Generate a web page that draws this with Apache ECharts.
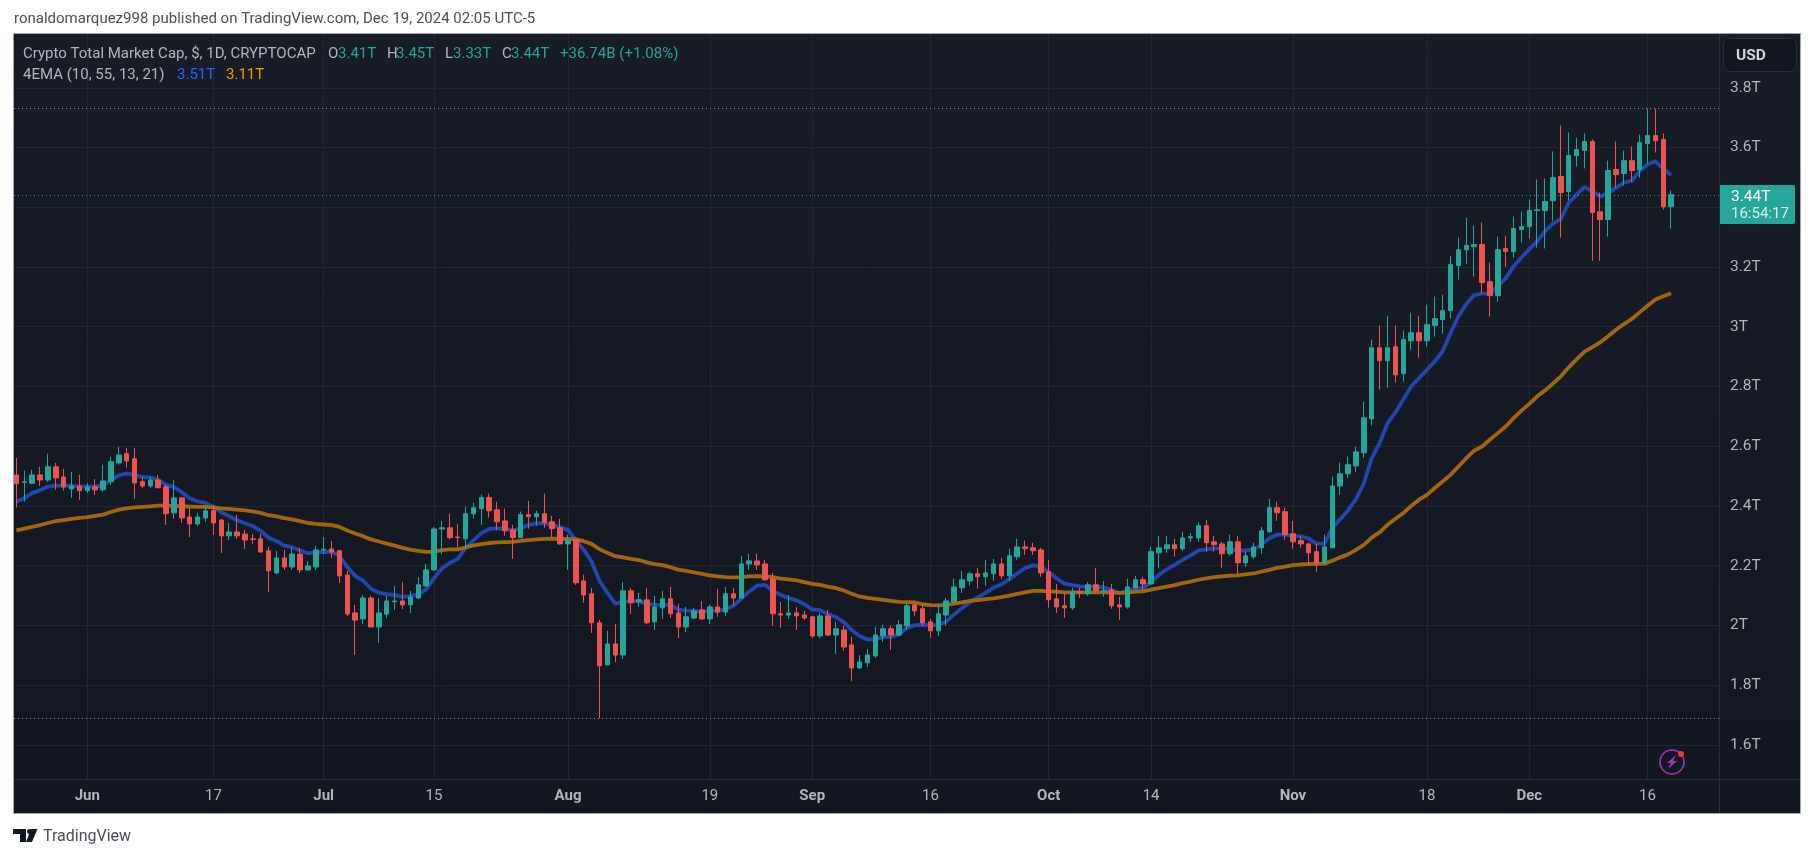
<!DOCTYPE html>
<html>
<head>
<meta charset="utf-8">
<style>html,body{margin:0;padding:0;background:#fff}#c{width:1814px;height:858px}</style>
<script src="https://cdn.jsdelivr.net/npm/echarts@6/dist/echarts.min.js"></script>
</head>
<body>
<div id="c"></div>
<script>
// Daily candles, May 23 2024 .. Dec 19 2024, values in trillions of USD
const opens = [
 2.504,2.479,2.476,2.504,2.487,2.531,2.497,2.457,2.467,
 2.451,2.464,2.454,2.481,2.544,2.575,2.558,2.481,2.467,2.487,2.464,2.377,2.427,2.363,2.340,2.360,2.384,2.353,2.300,2.313,2.306,2.290,2.290,2.250,2.176,2.226,2.196,2.239,2.186,2.196,
 2.253,2.256,2.250,2.169,2.042,2.022,2.092,1.995,2.038,2.079,2.082,2.069,2.092,2.132,2.186,2.323,2.327,2.296,2.290,2.374,2.391,2.428,2.387,2.350,2.320,2.294,2.371,2.364,2.374,2.347,2.327,
 2.273,2.287,2.149,2.106,2.009,1.868,1.938,1.901,2.116,2.079,2.086,2.012,2.059,2.089,2.042,1.995,2.025,2.052,2.022,2.062,2.045,2.106,2.092,2.206,2.216,2.206,2.156,2.039,2.035,2.042,2.035,
 2.029,1.965,2.032,1.968,1.985,1.935,1.858,1.875,1.898,1.965,1.989,1.968,1.999,2.069,2.056,2.012,1.982,2.035,2.079,2.126,2.149,2.173,2.163,2.173,2.206,2.166,2.230,2.263,2.260,2.253,
 2.180,2.089,2.066,2.059,2.113,2.106,2.136,2.113,2.119,2.069,2.062,2.126,2.153,2.139,2.243,2.257,2.270,2.257,2.293,2.293,2.334,2.280,2.273,2.240,2.280,2.210,2.230,2.260,2.314,2.394,2.381,
 2.307,2.284,2.273,2.247,2.210,2.260,2.467,2.508,2.534,2.578,2.692,2.930,2.886,2.933,2.843,2.953,2.980,2.953,3.004,3.024,3.054,3.205,3.258,3.268,3.275,3.151,3.104,3.262,3.251,3.325,
 3.335,3.389,3.389,3.422,3.503,3.453,3.573,3.590,3.620,3.385,3.359,3.526,3.513,3.556,3.526,3.613,3.640,3.627,3.402];
const closes = [
 2.474,2.481,2.504,2.487,2.531,2.494,2.464,2.467,2.451,
 2.464,2.454,2.484,2.548,2.571,2.551,2.477,2.467,2.487,2.461,2.374,2.427,2.360,2.340,2.363,2.384,2.343,2.300,2.313,2.300,2.286,2.288,2.246,2.183,2.226,2.196,2.239,2.186,2.199,2.253,
 2.255,2.246,2.166,2.038,2.018,2.092,1.995,2.042,2.082,2.082,2.069,2.095,2.136,2.186,2.323,2.327,2.294,2.294,2.374,2.394,2.428,2.384,2.347,2.317,2.294,2.371,2.364,2.374,2.344,2.324,2.273,
 2.284,2.143,2.102,2.009,1.865,1.938,1.901,2.116,2.076,2.086,2.009,2.062,2.089,2.039,1.995,2.029,2.049,2.022,2.062,2.045,2.106,2.092,2.206,2.216,2.203,2.153,2.039,2.035,2.042,2.032,2.025,
 1.965,2.032,1.968,1.989,1.928,1.858,1.878,1.901,1.968,1.989,1.968,2.002,2.066,2.049,2.009,1.982,2.039,2.082,2.129,2.153,2.173,2.163,2.176,2.206,2.166,2.233,2.263,2.257,2.250,2.176,
 2.086,2.062,2.059,2.113,2.109,2.136,2.116,2.116,2.066,2.062,2.129,2.153,2.139,2.247,2.260,2.270,2.257,2.293,2.297,2.334,2.277,2.270,2.240,2.280,2.210,2.233,2.263,2.317,2.394,2.377,2.304,
 2.280,2.273,2.243,2.210,2.263,2.467,2.508,2.538,2.581,2.695,2.930,2.886,2.930,2.839,2.957,2.980,2.953,3.007,3.027,3.054,3.208,3.258,3.272,3.275,3.148,3.104,3.258,3.252,3.329,3.335,
 3.389,3.392,3.419,3.499,3.449,3.573,3.593,3.620,3.382,3.359,3.523,3.509,3.556,3.523,3.617,3.640,3.623,3.402,3.442];
const lows = [
 2.395,2.415,2.474,2.467,2.481,2.454,2.451,2.427,2.420,
 2.444,2.437,2.447,2.471,2.538,2.528,2.424,2.461,2.461,2.459,2.337,2.357,2.343,2.296,2.333,2.347,2.303,2.243,2.286,2.290,2.256,2.273,2.243,2.112,2.172,2.186,2.186,2.176,2.183,2.186,
 2.239,2.226,2.142,2.032,1.901,2.005,1.995,1.941,2.025,2.052,2.055,2.042,2.089,2.132,2.183,2.239,2.287,2.262,2.262,2.357,2.337,2.361,2.320,2.300,2.223,2.294,2.324,2.334,2.327,2.294,2.270,
 2.186,2.136,2.076,1.975,1.690,1.868,1.878,1.888,2.039,2.062,2.005,1.985,2.022,2.025,1.958,1.978,2.022,2.019,2.005,2.029,2.032,2.066,2.092,2.186,2.186,2.149,1.999,1.992,2.022,1.985,2.019,
 1.958,1.958,1.965,1.905,1.915,1.814,1.854,1.861,1.891,1.945,1.918,1.965,1.985,2.032,1.999,1.958,1.965,1.999,2.076,2.109,2.133,2.123,2.133,2.149,2.156,2.149,2.220,2.236,2.236,2.163,
 2.059,2.042,2.025,2.052,2.092,2.099,2.109,2.096,2.056,2.019,2.056,2.123,2.119,2.136,2.193,2.243,2.230,2.250,2.280,2.280,2.247,2.247,2.193,2.233,2.170,2.196,2.223,2.240,2.310,2.350,2.287,
 2.257,2.260,2.203,2.180,2.206,2.260,2.437,2.494,2.514,2.561,2.669,2.789,2.796,2.813,2.816,2.923,2.896,2.933,2.967,2.977,3.027,3.158,3.211,3.168,3.111,3.034,3.084,3.201,3.231,3.282,
 3.295,3.265,3.262,3.355,3.298,3.422,3.536,3.530,3.221,3.221,3.302,3.466,3.473,3.486,3.499,3.546,3.583,3.392,3.328];
const highs = [
 2.561,2.518,2.521,2.531,2.575,2.544,2.524,2.514,2.504,
 2.477,2.490,2.538,2.565,2.598,2.595,2.595,2.497,2.497,2.504,2.471,2.487,2.430,2.394,2.377,2.397,2.404,2.357,2.343,2.370,2.320,2.306,2.306,2.263,2.250,2.253,2.263,2.260,2.216,2.266,
 2.296,2.283,2.253,2.183,2.069,2.102,2.099,2.092,2.099,2.132,2.146,2.116,2.162,2.206,2.330,2.350,2.374,2.340,2.397,2.411,2.438,2.441,2.414,2.391,2.337,2.381,2.417,2.384,2.441,2.367,2.357,
 2.304,2.290,2.170,2.126,2.019,1.982,2.005,2.146,2.126,2.109,2.126,2.099,2.116,2.129,2.072,2.062,2.059,2.082,2.069,2.123,2.129,2.126,2.233,2.240,2.240,2.220,2.176,2.079,2.102,2.062,2.049,
 2.032,2.042,2.052,2.012,1.999,1.962,1.901,1.921,1.995,2.002,1.999,2.019,2.072,2.069,2.066,2.022,2.072,2.092,2.156,2.183,2.180,2.193,2.220,2.223,2.226,2.257,2.290,2.284,2.277,2.260,
 2.220,2.139,2.109,2.126,2.126,2.146,2.193,2.149,2.139,2.096,2.156,2.166,2.163,2.263,2.300,2.300,2.290,2.314,2.310,2.344,2.354,2.300,2.280,2.304,2.300,2.247,2.277,2.330,2.424,2.414,2.394,
 2.350,2.300,2.277,2.273,2.304,2.498,2.545,2.565,2.598,2.749,2.957,3.004,3.037,3.004,2.987,3.047,3.037,3.074,3.101,3.107,3.238,3.299,3.365,3.339,3.349,3.215,3.302,3.305,3.369,3.385,
 3.426,3.493,3.496,3.587,3.674,3.650,3.633,3.647,3.627,3.449,3.556,3.620,3.590,3.603,3.643,3.730,3.730,3.647,3.456];
// EMA lines, one value per day
const emaFast = [
 2.415,2.426,2.443,2.453,2.465,2.468,2.468,2.467,2.465,
 2.465,2.465,2.470,2.487,2.502,2.509,2.503,2.497,2.496,2.487,2.471,2.463,2.446,2.426,2.415,2.410,2.397,2.379,2.366,2.352,2.342,2.333,2.317,2.294,2.283,2.267,2.262,2.251,2.242,2.244,
 2.246,2.246,2.234,2.195,2.166,2.150,2.123,2.110,2.105,2.102,2.096,2.098,2.104,2.121,2.158,2.191,2.209,2.223,2.259,2.285,2.309,2.323,2.325,2.323,2.318,2.325,2.337,2.342,2.342,2.337,2.329,
 2.320,2.286,2.253,2.214,2.149,2.110,2.073,2.079,2.082,2.081,2.072,2.069,2.069,2.069,2.053,2.050,2.048,2.046,2.048,2.050,2.054,2.066,2.090,2.114,2.133,2.136,2.116,2.102,2.092,2.084,2.071,
 2.054,2.051,2.038,2.028,2.011,1.985,1.965,1.953,1.954,1.961,1.962,1.970,1.992,2.001,2.002,2.001,2.001,2.013,2.037,2.058,2.078,2.094,2.109,2.126,2.137,2.155,2.174,2.192,2.201,2.198,
 2.178,2.158,2.140,2.135,2.131,2.130,2.130,2.127,2.119,2.108,2.117,2.123,2.126,2.145,2.170,2.188,2.203,2.220,2.234,2.251,2.255,2.258,2.258,2.255,2.251,2.251,2.255,2.270,2.292,2.304,2.304,
 2.300,2.298,2.291,2.274,2.274,2.326,2.356,2.385,2.423,2.476,2.560,2.610,2.677,2.713,2.756,2.800,2.828,2.856,2.884,2.918,2.979,3.035,3.076,3.106,3.111,3.112,3.135,3.162,3.202,3.232,
 3.260,3.286,3.320,3.345,3.361,3.415,3.442,3.468,3.453,3.436,3.448,3.465,3.482,3.489,3.521,3.543,3.554,3.528,3.508];
const emaSlow = [
 2.318,2.324,2.330,2.336,2.343,2.349,2.353,2.357,2.360,
 2.363,2.367,2.371,2.380,2.388,2.392,2.395,2.397,2.399,2.401,2.401,2.400,2.399,2.398,2.397,2.397,2.395,2.392,2.390,2.388,2.385,2.382,2.377,2.369,2.365,2.359,2.355,2.349,2.343,2.340,
 2.338,2.336,2.330,2.318,2.308,2.299,2.288,2.281,2.274,2.267,2.260,2.254,2.250,2.246,2.247,2.252,2.255,2.255,2.261,2.268,2.272,2.276,2.278,2.279,2.280,2.283,2.286,2.288,2.290,2.291,2.290,
 2.290,2.288,2.282,2.273,2.255,2.243,2.232,2.228,2.223,2.219,2.211,2.205,2.202,2.195,2.187,2.183,2.178,2.173,2.168,2.164,2.162,2.161,2.162,2.164,2.165,2.164,2.162,2.157,2.154,2.151,2.145,
 2.139,2.136,2.130,2.125,2.117,2.106,2.097,2.092,2.089,2.086,2.082,2.079,2.078,2.077,2.071,2.068,2.067,2.069,2.073,2.077,2.082,2.085,2.088,2.091,2.095,2.100,2.106,2.111,2.116,2.116,
 2.114,2.113,2.111,2.111,2.111,2.111,2.111,2.111,2.110,2.109,2.110,2.113,2.114,2.120,2.125,2.130,2.135,2.142,2.147,2.153,2.158,2.162,2.164,2.167,2.168,2.171,2.174,2.180,2.186,2.193,2.197,
 2.202,2.204,2.205,2.206,2.207,2.217,2.228,2.238,2.253,2.270,2.294,2.312,2.337,2.357,2.376,2.400,2.421,2.437,2.460,2.482,2.504,2.532,2.560,2.585,2.599,2.622,2.644,2.666,2.694,2.719,
 2.742,2.767,2.787,2.810,2.834,2.864,2.891,2.917,2.932,2.948,2.968,2.990,3.009,3.026,3.048,3.070,3.091,3.102,3.112];
const priceTicks = [1.6,1.8,2,2.2,2.4,2.6,2.8,3,3.2,3.4,3.6,3.8];
const dateTicks = ['2024-06-01','2024-06-17','2024-07-01','2024-07-15','2024-08-01','2024-08-19','2024-09-01','2024-09-16','2024-10-01','2024-10-14','2024-11-01','2024-11-18','2024-12-01','2024-12-16'];
const dateTickLabels = ['Jun','17','Jul','15','Aug','19','Sep','16','Oct','14','Nov','18','Dec','16'];
const lastPrice = 3.44, rangeHigh = 3.73, rangeLow = 1.69;

const DAY = 86400000;
const firstDay = Date.UTC(2024,4,23);
// x is the day number counted from the first candle
const days = opens.map((_, i) => i);
const dateTickDays = dateTicks.map(d => Math.round((Date.parse(d + 'T00:00:00Z') - firstDay) / DAY));
const candles = days.map((d, i) => [d, opens[i], closes[i], lows[i], highs[i]]);

const FONT = 'Roboto, sans-serif';
const TEAL = '#26a69a', RED = '#ef5350', GREY = '#b2b5be';
function txt(text, x, y, size, fill, extra) {
  return {type:'text', z:200, silent:true,
    style:Object.assign({text:text, x:x, y:y, fill:fill, font:size+'px '+FONT, textVerticalAlign:'middle'}, extra||{})};
}
function line(x1,y1,x2,y2,c){return {type:'line',z:-5,silent:true,shape:{x1,y1,x2,y2},style:{stroke:c,lineWidth:1}};}

const LEG = 15;
const elements = [
  {type:'rect', z:-10, silent:true, shape:{x:13.5,y:33.5,width:1787,height:780},
   style:{fill:{type:'linear',x:0,y:0,x2:0,y2:1,colorStops:[{offset:0,color:'#181c27'},{offset:1,color:'#131722'}]},stroke:'#a3a6af',lineWidth:1}},
  line(1719.5,34,1719.5,813,'#2a2e39'),
  line(14,779.5,1800,779.5,'#2a2e39'),
  txt('ronaldomarquez998 published on TradingView.com, Dec 19, 2024 02:05 UTC-5',14,19,15,'#4a4d55'),
  txt('Crypto Total Market Cap, $, 1D, CRYPTOCAP',23,54,LEG,GREY),
  txt('O',328,54,LEG,GREY), txt('3.41T',338,54,LEG,TEAL),
  txt('H',387,54,LEG,GREY), txt('3.45T',396,54,LEG,TEAL),
  txt('L',445,54,LEG,GREY), txt('3.33T',453,54,LEG,TEAL),
  txt('C',502,54,LEG,GREY), txt('3.44T',511,54,LEG,TEAL),
  txt('+36.74B (+1.08%)',560,54,LEG,TEAL),
  txt('4EMA (10, 55, 13, 21)',23,75,LEG,GREY),
  txt('3.51T',177,75,LEG,'#2962ff'), txt('3.11T',226,75,LEG,'#ff9800'),
  {type:'rect',z:200,silent:true,shape:{x:1723.5,y:38.5,width:73,height:33,r:6},style:{fill:'#131722',stroke:'#2a2e39',lineWidth:1}},
  txt('USD',1736,56,15.5,'#d1d4dc',{font:'bold 15.5px '+FONT}),
  {type:'rect',z:200,silent:true,shape:{x:1720,y:185,width:75,height:39,r:[0,2,2,0]},style:{fill:TEAL}},
  txt('3.44T',1731,197,15.5,'#ffffff'),
  txt('16:54:17',1731,214,15,'#d4f1ee'),
  {type:'circle',z:200,silent:true,shape:{cx:1672,cy:762,r:12},style:{fill:'none',stroke:'#9c3bb0',lineWidth:1.6}},
  {type:'polygon',z:200,silent:true,shape:{points:[[1676,755],[1667,763],[1671,763],[1668,769],[1677,761],[1673,761]]},style:{fill:'#9c3bb0'}},
  {type:'circle',z:201,silent:true,shape:{cx:1681,cy:754,r:3},style:{fill:'#f23645'}},
  {type:'polygon',z:200,silent:true,shape:{points:[[13,829],[26,829],[26,842],[20,842],[20,834],[13,834]]},style:{fill:'#131722'}},
  {type:'circle',z:200,silent:true,shape:{cx:29.5,cy:831.5,r:2.5},style:{fill:'#131722'}},
  {type:'polygon',z:200,silent:true,shape:{points:[[31,829],[37.5,829],[32,842],[26,842]]},style:{fill:'#131722'}},
  txt('TradingView',43,837,16,'#4a4d55')
];

const chart = echarts.init(document.getElementById('c'), null, {renderer:'canvas'});
chart.setOption({
  animation:false,
  backgroundColor:'#ffffff',
  grid:{left:14,right:95,top:34,bottom:79,containLabel:false,show:false},
  graphic:{elements:elements},
  xAxis:{
    type:'value',
    min:-0.302,
    max:216.07,
    axisLine:{show:false},
    axisTick:{show:false,customValues:dateTickDays},
    splitLine:{show:true,lineStyle:{color:'#232732',width:1}},
    axisLabel:{
      customValues:dateTickDays,
      margin:10,
      hideOverlap:false,
      formatter:function(v){
        const i = dateTickDays.indexOf(+v);
        const s = i>=0 ? dateTickLabels[i] : '';
        return /^[A-Z]/.test(s) ? '{m|'+s+'}' : '{d|'+s+'}';
      },
      rich:{
        m:{fontFamily:FONT,fontSize:15,fontWeight:'bold',color:GREY},
        d:{fontFamily:FONT,fontSize:15,color:GREY}
      }
    }
  },
  yAxis:{
    type:'value',
    position:'right',
    min:1.486,
    max:3.98,
    axisLine:{show:false},
    axisTick:{show:false,customValues:priceTicks},
    splitLine:{show:true,lineStyle:{color:'#232732',width:1}},
    axisLabel:{
      customValues:priceTicks,
      margin:11,
      padding:[4,0,0,0],
      color:GREY,
      fontFamily:FONT,
      fontSize:15.5,
      formatter:function(v){return (+(+v).toFixed(1))+'T';}
    }
  },
  series:[
    {type:'line',name:'EMA 10',data:days.map((d,i)=>[d,emaFast[i]]),showSymbol:false,symbol:'none',z:2,
     lineStyle:{color:'#2349b8',width:3.8,opacity:.95},smooth:false},
    {type:'line',name:'EMA 55',data:days.map((d,i)=>[d,emaSlow[i]]),showSymbol:false,symbol:'none',z:3,
     lineStyle:{color:'#a96a0e',width:3.8,opacity:.95},smooth:false},
    {type:'candlestick',name:'Crypto Total Market Cap',data:candles,encode:{x:0,y:[1,2,3,4]},z:4,
     barWidth:5,progressive:0,
     itemStyle:{color:TEAL,color0:RED,borderColor:TEAL,borderColor0:RED,borderWidth:1},
     markLine:{silent:true,symbol:'none',animation:false,label:{show:false},
       data:[
        {yAxis:rangeHigh,lineStyle:{color:'#8f9299',type:[1,3],width:1}},
        {yAxis:rangeLow,lineStyle:{color:'#8f9299',type:[1,3],width:1}},
        {yAxis:lastPrice,lineStyle:{color:TEAL,type:[1,3],width:1}}
       ]}
    }
  ]
});
</script>
</body>
</html>
